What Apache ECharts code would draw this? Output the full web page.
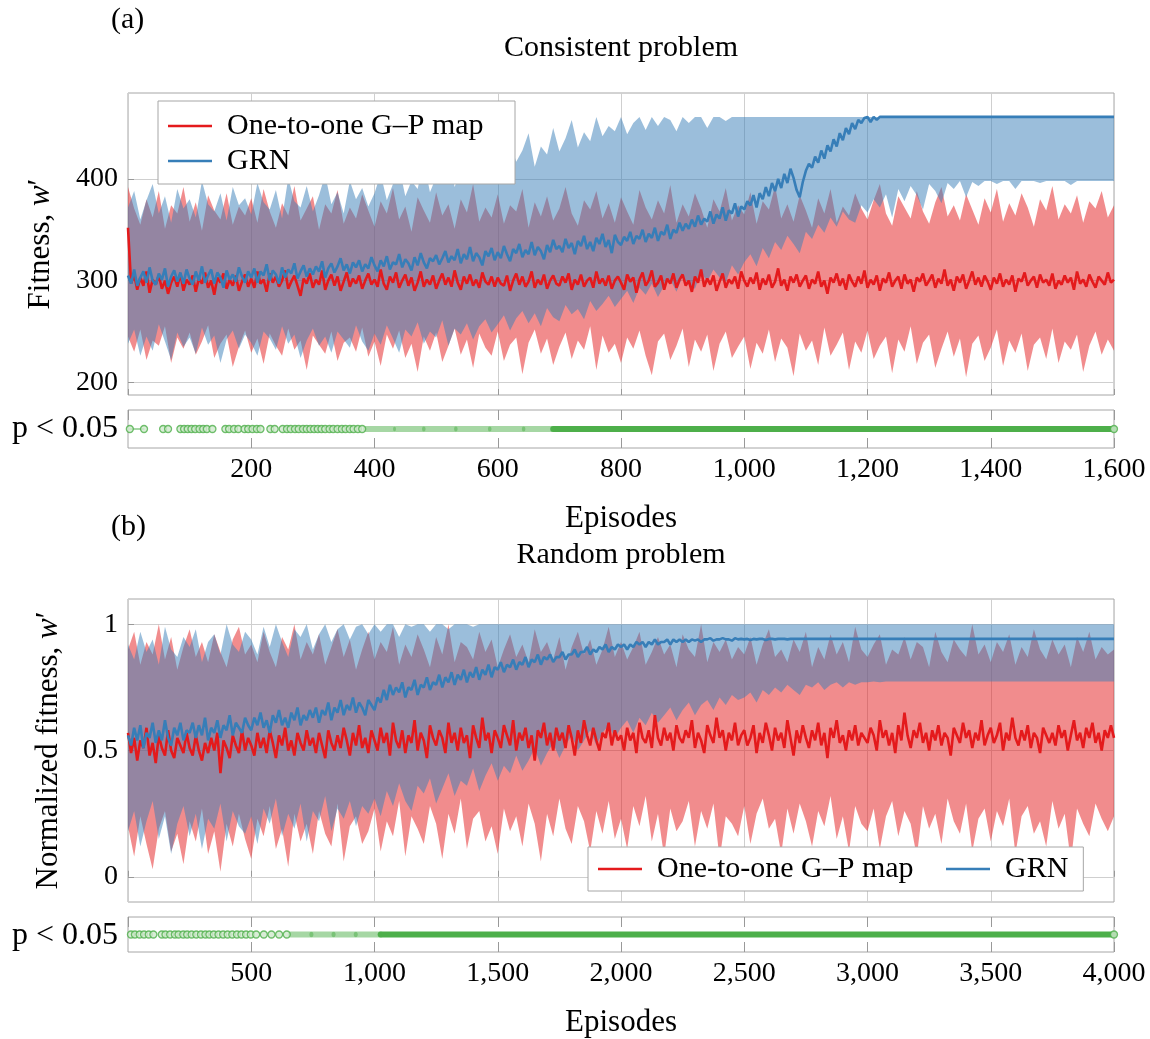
<!DOCTYPE html>
<html>
<head>
<meta charset="utf-8">
<script src="https://cdn.jsdelivr.net/npm/echarts@6/dist/echarts.min.js"></script>
<style>
html, body { margin: 0; padding: 0; background: #fff; }
#chart { width: 1150px; height: 1039px; }
</style>
</head>
<body>
<div id="chart"></div>
<script>
// (a) Consistent problem: means every 5 episodes, bands every 10 episodes (0..1600)
var redMeanA = [
352,297,306,291,303,295,309,288,301,296,305,292,300,287,298,304,294,307,290,301,
296,305,289,302,297,308,293,300,286,303,298,307,292,301,295,305,290,299,306,294,
302,293,309,297,301,289,307,298,304,294,300,310,292,299,305,295,285,302,297,307,
293,301,296,310,291,300,306,295,304,290,299,308,294,302,297,305,292,300,307,296,
301,294,311,297,291,304,298,308,293,300,306,295,303,290,298,309,294,301,296,305,
292,300,307,296,303,294,310,298,291,304,297,306,295,301,293,308,299,296,304,294,
303,297,295,305,290,300,307,296,304,294,299,309,293,301,296,306,292,300,305,297,
295,304,298,307,291,301,296,306,294,300,303,293,309,297,302,295,305,292,300,304,
298,291,306,299,303,288,301,308,295,300,310,294,298,305,291,302,297,307,293,301,
306,295,300,289,304,298,311,294,302,296,305,290,299,307,293,301,297,304,292,309,
300,294,303,297,308,291,302,296,306,293,299,312,295,301,290,304,298,306,294,300,
305,292,301,297,309,294,300,287,303,298,307,295,302,291,306,299,294,304,297,310,
293,301,296,305,290,302,298,308,294,300,304,292,306,297,301,289,303,299,307,295,
300,306,293,302,297,311,295,301,290,304,298,306,292,300,309,296,303,294,305,299,
291,303,297,307,294,301,296,305,289,302,299,308,295,300,304,293,306,298,301,295,
307,292,300,296,305,298,303,291,309,297,301,294,306,299,293,304,300,296,308,298,
301];
var blueMeanA = [
305,297,311,295,303,309,298,313,300,296,307,301,312,294,304,310,299,308,297,311,
302,296,309,300,314,298,305,311,297,308,303,293,310,301,306,299,313,304,298,309,
303,312,298,309,305,316,300,310,306,297,313,303,311,307,317,302,309,315,304,312,
306,314,309,319,303,312,317,308,314,322,310,316,307,318,313,320,309,316,312,323,
315,309,320,314,324,311,318,316,326,313,321,317,310,323,315,327,318,312,322,319,
325,316,322,329,318,324,320,331,317,326,321,333,319,327,323,315,329,324,332,320,
328,322,334,326,319,331,327,336,323,330,326,338,325,333,329,321,335,328,340,331,
334,328,341,332,337,326,339,334,344,331,338,329,342,336,346,333,340,327,345,338,
335,343,339,348,336,344,341,350,338,346,342,352,339,348,345,355,341,350,347,357,
349,356,351,360,353,364,355,361,358,368,356,365,361,372,359,369,366,376,363,373,
370,378,374,384,372,386,380,392,383,396,388,400,391,405,396,410,401,389,382,397,
408,415,411,422,416,428,420,433,427,439,432,445,438,450,444,455,449,458,455,460,
461,456,461,458,461,461,461,461,461,461,461,461,461,461,461,461,461,461,461,461,
461,461,461,461,461,461,461,461,461,461,461,461,461,461,461,461,461,461,461,461,
461,461,461,461,461,461,461,461,461,461,461,461,461,461,461,461,461,461,461,461,
461,461,461,461,461,461,461,461,461,461,461,461,461,461,461,461,461,461,461,461,
461];
var redHiA = [
392,371,355,380,362,388,351,374,366,392,358,377,349,384,369,360,386,355,373,364,
381,357,390,368,352,376,364,393,359,371,383,350,375,366,389,356,372,361,385,369,
353,378,366,391,360,373,348,382,369,357,387,364,375,351,380,367,395,358,372,362,
385,356,374,368,390,352,377,363,383,359,371,392,366,354,379,370,388,361,376,357,
382,368,355,389,372,360,379,366,394,357,375,363,386,371,352,380,368,391,359,374,
365,387,356,378,370,393,361,375,358,384,369,352,381,366,390,357,373,364,386,371,
360,379,395,366,354,383,372,361,388,368,356,377,392,363,374,359,385,370,355,381,
367,390,358,376,364,386,372,353,380,369,393,360,375,366,384,357,378,371,388,362,
374];
var redLoA = [
245,230,252,222,241,236,255,219,244,233,249,227,240,256,224,238,247,215,235,251,
229,243,218,248,236,226,253,232,241,212,246,237,228,250,221,239,244,230,254,225,
240,216,247,233,251,224,238,210,245,231,249,220,236,253,227,242,214,248,234,226,
250,221,237,244,208,239,252,228,243,217,235,249,223,241,232,255,212,246,229,238,
219,244,233,251,226,207,240,248,222,236,253,215,242,230,247,211,238,250,224,235,
245,213,239,228,252,220,243,234,206,248,231,241,217,254,226,237,249,212,240,229,
251,223,236,245,209,242,230,255,218,239,247,214,233,250,225,243,205,238,246,221,
234,252,216,241,229,248,211,237,244,223,253,219,240,232,247,210,236,250,227,242,
231];
var blueHiA = [
372,388,360,379,395,366,383,357,390,371,380,362,398,375,368,386,359,392,374,381,
365,396,377,370,389,361,401,378,372,393,368,384,404,375,387,366,398,380,391,373,
386,405,379,395,412,383,398,390,418,387,402,396,425,392,408,399,430,401,414,405,
421,408,436,417,428,445,412,432,424,450,427,440,458,431,446,437,461,442,452,447,
461,444,455,461,448,461,452,461,458,447,461,455,461,461,450,461,461,457,461,461,
461,461,461,461,461,461,461,461,461,461,461,461,461,461,461,461,461,461,461,461,
461,461,461,461,461,461,461,461,461,461,461,461,461,461,461,461,461,461,461,461,
461,461,461,461,461,461,461,461,461,461,461,461,461,461,461,461,461,461,461,461,
461];
var blueLoA = [
238,252,226,245,231,257,240,222,249,235,244,228,254,237,246,219,242,251,233,247,
239,226,250,243,232,255,238,247,224,241,253,236,245,229,250,242,234,256,240,231,
248,237,256,243,229,252,245,259,238,250,244,261,236,253,247,258,242,255,262,249,
257,266,251,263,270,258,268,255,273,264,260,276,267,272,262,280,270,277,285,274,
282,290,278,293,286,297,284,295,301,289,304,296,292,308,299,311,303,298,315,306,
318,326,314,332,322,338,330,344,336,327,348,341,355,347,362,353,368,360,357,374,
367,380,372,385,362,390,378,393,384,370,395,388,376,396,390,398,382,397,393,398,
398,395,398,398,390,398,398,398,396,398,398,398,398,394,398,398,398,398,398,398,
398];

// (b) Random problem: means every 12.5 episodes, bands every 25 episodes (0..4000)
var redMeanB = [
.57,.49,.55,.46,.54,.51,.59,.48,.53,.45,.56,.51,.48,.58,.50,.47,.55,.52,.49,.57,
.51,.48,.56,.50,.46,.53,.49,.55,.50,.57,.41,.54,.51,.47,.56,.52,.49,.58,.50,.55,
.52,.48,.57,.51,.55,.49,.58,.53,.47,.56,.52,.59,.50,.54,.48,.57,.53,.50,.58,.52,
.55,.49,.57,.52,.47,.58,.53,.50,.56,.51,.59,.54,.48,.57,.52,.60,.51,.55,.49,.58,
.54,.50,.59,.53,.57,.48,.61,.54,.51,.58,.49,.56,.53,.62,.50,.57,.54,.47,.60,.55,
.52,.58,.55,.49,.61,.53,.57,.50,.59,.53,.56,.47,.60,.55,.51,.63,.54,.57,.49,.58,
.55,.51,.60,.56,.52,.62,.50,.57,.54,.59,.51,.56,.46,.58,.55,.61,.52,.57,.50,.59,
.54,.57,.51,.60,.55,.48,.58,.53,.62,.56,.52,.59,.54,.50,.57,.55,.61,.52,.58,.54,
.56,.50,.59,.54,.57,.49,.61,.55,.53,.58,.51,.64,.55,.52,.59,.54,.57,.50,.60,.55,
.53,.58,.55,.62,.51,.57,.54,.49,.60,.56,.53,.63,.55,.58,.50,.57,.54,.61,.52,.56,
.58,.52,.55,.60,.49,.57,.53,.61,.56,.50,.59,.54,.57,.51,.62,.55,.48,.58,.53,.60,
.55,.51,.58,.54,.61,.52,.57,.47,.59,.55,.62,.53,.56,.50,.58,.54,.60,.52,.57,.55,
.53,.59,.56,.50,.62,.55,.58,.52,.57,.49,.60,.54,.65,.56,.51,.58,.55,.61,.53,.57,
.50,.58,.54,.60,.52,.57,.55,.48,.59,.56,.53,.61,.55,.58,.51,.57,.54,.62,.52,.56,
.59,.53,.56,.61,.50,.57,.54,.63,.55,.52,.58,.54,.60,.51,.57,.55,.49,.59,.56,.53,
.57,.52,.60,.55,.58,.50,.56,.62,.54,.57,.51,.59,.55,.61,.53,.57,.50,.58,.55,.60,
.55];
var blueMeanB = [
.56,.52,.59,.54,.60,.51,.57,.55,.61,.53,.58,.54,.62,.55,.52,.59,.56,.61,.54,.58,
.57,.61,.55,.60,.56,.63,.54,.59,.57,.62,.55,.60,.58,.64,.56,.61,.59,.57,.63,.60,
.58,.63,.60,.65,.59,.62,.57,.64,.61,.66,.60,.63,.59,.65,.62,.67,.60,.64,.62,.66,
.63,.67,.61,.66,.64,.69,.62,.67,.65,.70,.64,.68,.66,.71,.65,.69,.67,.64,.70,.68,
.66,.71,.69,.74,.70,.76,.72,.75,.73,.77,.71,.75,.74,.78,.72,.76,.75,.79,.74,.77,
.76,.80,.75,.79,.77,.81,.76,.80,.78,.82,.77,.81,.79,.83,.78,.82,.80,.84,.79,.83,
.82,.85,.81,.84,.83,.86,.82,.85,.84,.87,.83,.86,.85,.88,.84,.87,.86,.88,.85,.87,
.87,.89,.86,.88,.88,.90,.87,.89,.89,.91,.88,.90,.89,.91,.90,.92,.89,.91,.90,.92,
.91,.92,.90,.92,.91,.93,.92,.93,.91,.93,.92,.94,.92,.93,.93,.94,.92,.94,.93,.94,
.93,.94,.93,.94,.935,.94,.93,.94,.94,.945,.935,.94,.94,.945,.94,.94,.935,.945,.94,.942,
.94,.942,.938,.942,.94,.942,.942,.938,.942,.942,.94,.942,.942,.942,.94,.942,.942,.942,.942,.942,
.942,.942,.942,.942,.942,.942,.942,.942,.942,.942,.942,.942,.942,.942,.942,.942,.942,.942,.942,.942,
.942,.942,.942,.942,.942,.942,.942,.942,.942,.942,.942,.942,.942,.942,.942,.942,.942,.942,.942,.942,
.942,.942,.942,.942,.942,.942,.942,.942,.942,.942,.942,.942,.942,.942,.942,.942,.942,.942,.942,.942,
.942,.942,.942,.942,.942,.942,.942,.942,.942,.942,.942,.942,.942,.942,.942,.942,.942,.942,.942,.942,
.942,.942,.942,.942,.942,.942,.942,.942,.942,.942,.942,.942,.942,.942,.942,.942,.942,.942,.942,.942,
.942];
var redHiB = [
.90,.97,.84,.93,.88,1.0,.86,.95,.82,.91,.98,.87,.93,.85,.96,.89,.83,.94,.99,.88,
.92,.85,.97,.89,.83,.95,.90,1.0,.86,.93,.88,.96,.84,.91,.98,.87,.94,.82,.90,.97,
.86,.93,.89,.99,.84,.92,.87,.96,.90,.83,.95,.88,1.0,.85,.93,.91,.86,.97,.89,.94,
.83,.90,.96,.87,.92,.85,.98,.89,.93,.86,.95,.82,.91,.97,.88,.94,.84,.90,.99,.87,
.93,.86,.91,.97,.84,.89,.95,.88,.92,.83,.96,.90,.87,1.0,.85,.93,.89,.94,.86,.91,
.88,.95,.84,.92,.98,.87,.90,.85,.94,.89,.97,.83,.91,.86,.96,.88,.93,.85,.99,.90,
.87,.92,.96,.84,.90,.88,.95,.86,.93,.91,.83,.97,.89,.85,.94,.90,.87,1.0,.88,.92,
.85,.93,.89,.96,.84,.91,.87,.98,.90,.86,.94,.88,.92,.83,.95,.89,.97,.86,.91,.88,
.90];
var redLoB = [
.20,.08,.24,.13,.03,.19,.26,.10,.17,.05,.22,.14,.27,.09,.18,.02,.21,.12,.25,.15,
.07,.23,.16,.28,.11,.19,.04,.25,.14,.21,.09,.26,.17,.12,.29,.06,.20,.24,.13,.18,
.27,.10,.22,.16,.30,.08,.24,.19,.13,.28,.21,.07,.25,.17,.31,.11,.23,.26,.14,.20,
.09,.27,.18,.24,.12,.29,.21,.06,.25,.16,.31,.19,.13,.28,.22,.10,.26,.17,.30,.15,
.23,.11,.28,.20,.32,.14,.25,.08,.27,.18,.22,.30,.12,.26,.19,.29,.07,.24,.21,.16,
.28,.13,.25,.31,.19,.23,.09,.27,.17,.29,.22,.12,.26,.20,.32,.15,.24,.10,.28,.21,
.18,.27,.11,.24,.30,.16,.26,.21,.08,.28,.19,.25,.13,.31,.22,.17,.29,.10,.23,.27,
.14,.26,.20,.31,.09,.24,.28,.17,.22,.12,.30,.19,.25,.06,.27,.21,.16,.29,.23,.18,
.24];
var blueHiB = [
.92,.86,.97,.89,.94,.84,.99,.90,.87,.95,.91,.98,.85,.93,.96,.88,1.0,.92,.89,.97,
.94,.88,.99,.91,1.0,.93,.87,.98,.95,1.0,.90,.96,1.0,.93,.98,1.0,.94,.99,1.0,.96,
1.0,.97,1.0,1.0,.95,1.0,.99,1.0,1.0,.97,1.0,1.0,.98,1.0,1.0,1.0,.99,1.0,1.0,1.0,
1,1,1,1,1,1,1,1,1,1,1,1,1,1,1,1,1,1,1,1,
1,1,1,1,1,1,1,1,1,1,1,1,1,1,1,1,1,1,1,1,
1,1,1,1,1,1,1,1,1,1,1,1,1,1,1,1,1,1,1,1,
1,1,1,1,1,1,1,1,1,1,1,1,1,1,1,1,1,1,1,1,
1,1,1,1,1,1,1,1,1,1,1,1,1,1,1,1,1,1,1,1,
1];
var blueLoB = [
.18,.26,.12,.22,.30,.15,.24,.09,.21,.28,.16,.25,.11,.23,.19,.29,.14,.26,.20,.17,
.24,.13,.27,.21,.31,.16,.25,.19,.29,.14,.26,.22,.32,.18,.27,.23,.30,.20,.28,.25,
.31,.24,.34,.28,.37,.30,.26,.36,.33,.39,.29,.35,.41,.32,.38,.36,.43,.34,.40,.45,
.38,.44,.41,.48,.42,.46,.51,.44,.49,.53,.47,.52,.56,.50,.54,.58,.52,.57,.60,.55,
.59,.62,.57,.63,.60,.65,.61,.64,.67,.62,.66,.69,.64,.68,.70,.66,.71,.68,.72,.70,
.71,.73,.69,.74,.72,.75,.73,.76,.74,.72,.76,.75,.77,.74,.76,.77,.75,.77,.76,.77,
.77,.773,.77,.773,.773,.773,.773,.773,.773,.773,.773,.773,.773,.773,.773,.773,.773,.773,.773,.773,
.773,.773,.773,.773,.773,.773,.773,.773,.773,.773,.773,.773,.773,.773,.773,.773,.773,.773,.773,.773,
.773];

// episodes where p < 0.05
var sigPointsA = [3, 26, 57, 65, 85, 91, 97, 103, 109, 116, 122, 128, 137, 158, 164, 172, 179, 189, 195, 202, 209, 215,
  231, 238, 251, 258, 264, 271, 277, 284, 290, 296, 302, 308, 314, 320, 327, 333, 340, 347, 353, 360, 366, 373, 380, 1600];
var sigLinksA = [[3, 26]];
var sigFaintA = [[386, 430], [435, 478], [482, 530], [534, 585], [589, 640], [644, 690]];
var sigRunsA = [[690, 1600]];

var sigPointsB = [12, 28, 47, 65, 84, 103, 137, 152, 171, 190, 205, 224, 240, 258, 277, 296, 314, 330, 348, 367, 386,
  404, 423, 442, 460, 479, 498, 520, 551, 582, 613, 644, 4000];
var sigLinksB = [];
var sigFaintB = [[660, 740], [748, 830], [838, 920], [928, 1025]];
var sigRunsB = [[1025, 4000]];

var yTicksA = [200, 300, 400];
var yTicksB = [0, 0.5, 1];

var RED = '#e41a1c', BLUE = '#377eb8', GREEN = '#4daf4a';
var FONT = '"Liberation Serif", "Times New Roman", serif';
var FS = 28;   // tick labels
var FT = 30;   // other text
var nameRed = 'One-to-one G\u2013P map', nameBlue = 'GRN';

// x positions spread evenly over the episode range
function episodes(arr, max) {
    return arr.map(function (v, i) { return i * max / (arr.length - 1); });
}
function pairs(xs, ys) {
    return xs.map(function (x, i) { return [x, ys[i]]; });
}
function commas(v) {
    return String(v).replace(/\B(?=(\d{3})+(?!\d))/g, ',');
}

function band(xi, yi, max, lo, hi, fill) {
    var xs = episodes(lo, max);
    return {
        type: 'custom', xAxisIndex: xi, yAxisIndex: yi, silent: true, z: 1,
        data: xs.map(function (x, i) { return [x, lo[i], hi[i]]; }),
        encode: { x: 0, y: [1, 2] },
        renderItem: function (params, api) {
            if (params.dataIndex !== 0) return null;
            var pts = [];
            for (var i = 0; i < xs.length; i++) pts.push(api.coord([xs[i], hi[i]]));
            for (var j = xs.length - 1; j >= 0; j--) pts.push(api.coord([xs[j], lo[j]]));
            return { type: 'polygon', shape: { points: pts }, style: { fill: fill } };
        }
    };
}

function meanLine(xi, yi, name, max, ys, color) {
    return {
        type: 'line', name: name, xAxisIndex: xi, yAxisIndex: yi, z: 3,
        data: pairs(episodes(ys, max), ys), symbol: 'none', showSymbol: false,
        lineStyle: { color: color, width: 2.6 }, itemStyle: { color: color }
    };
}

function runs(xi, yi, list, width, opacity) {
    return {
        type: 'custom', xAxisIndex: xi, yAxisIndex: yi, silent: true, z: 2,
        data: list,
        encode: { x: [0, 1] },
        renderItem: function (params, api) {
            var p0 = api.coord([api.value(0), 0.5]);
            var p1 = api.coord([api.value(1), 0.5]);
            return {
                type: 'line',
                shape: { x1: p0[0], y1: p0[1], x2: p1[0], y2: p1[1] },
                style: { stroke: GREEN, lineWidth: width, opacity: opacity, lineCap: 'round' }
            };
        }
    };
}

function dots(xi, yi, list) {
    return {
        type: 'scatter', xAxisIndex: xi, yAxisIndex: yi, silent: true, z: 4,
        data: list.map(function (e) { return [e, 0.5]; }),
        symbol: 'circle', symbolSize: 7,
        itemStyle: { color: '#cfe8cd', borderColor: GREEN, borderWidth: 1.3 }
    };
}

function mainX(grid, max, step) {
    return {
        type: 'value', gridIndex: grid, min: 0, max: max, interval: step,
        axisLine: { show: false },
        axisTick: { show: true, inside: true, length: 6, lineStyle: { color: '#999' } },
        axisLabel: { show: false },
        splitLine: { show: true, lineStyle: { color: '#cfcfcf', width: 1 } }
    };
}
function stripX(grid, max, step, pos, labels) {
    return {
        type: 'value', gridIndex: grid, min: 0, max: max, interval: step, position: pos,
        axisLine: { show: false },
        axisTick: { show: true, inside: true, length: 10, lineStyle: { color: '#999' } },
        axisLabel: labels ? {
            show: true, showMinLabel: false, margin: 8, color: '#000',
            fontFamily: FONT, fontSize: FS, formatter: commas
        } : { show: false },
        splitLine: { show: false },
        name: labels ? 'Episodes' : '', nameLocation: 'middle', nameGap: 55,
        nameTextStyle: { fontFamily: FONT, fontSize: 31, color: '#000' }
    };
}
function mainY(grid, min, max, ticks, nameText, gap) {
    return {
        type: 'value', gridIndex: grid, min: min, max: max,
        axisLine: { show: false },
        axisTick: { show: true, inside: true, length: 6, customValues: ticks, lineStyle: { color: '#999' } },
        axisLabel: { show: true, customValues: ticks, margin: 10, color: '#000', fontFamily: FONT, fontSize: FS },
        splitLine: { show: true, lineStyle: { color: '#cfcfcf', width: 1 } },
        name: nameText, nameLocation: 'middle', nameGap: gap, nameRotate: 90,
        nameTextStyle: {
            color: '#000',
            rich: {
                t: { fontFamily: FONT, fontSize: 31, color: '#000' },
                w: { fontFamily: FONT, fontSize: 31, fontStyle: 'italic', color: '#000' }
            }
        }
    };
}
function stripY(grid) {
    return {
        type: 'value', gridIndex: grid, min: 0, max: 1,
        axisLine: { show: false }, axisTick: { show: false },
        axisLabel: { show: false }, splitLine: { show: false }
    };
}

function legendBox(orient, left, top, padding, gap) {
    return {
        data: [nameRed, nameBlue], orient: orient, left: left, top: top,
        padding: padding, itemGap: gap, itemWidth: 44, itemHeight: 2.5, icon: 'rect',
        backgroundColor: '#fff', borderColor: '#a6a6a6', borderWidth: 1, borderRadius: 0,
        formatter: function (name) { return name === nameRed ? '{r|' + name + '}' : '{g|' + name + '}'; },
        textStyle: {
            fontFamily: FONT, fontSize: FT, color: '#000',
            rich: {
                r: { fontFamily: FONT, fontSize: FT, color: '#000', width: 274, lineHeight: 32, padding: [0, 0, 0, 10] },
                g: { fontFamily: FONT, fontSize: FT, color: '#000', lineHeight: 32, padding: [0, 0, 0, 10] }
            }
        }
    };
}

var frame = { show: true, borderColor: '#a6a6a6', borderWidth: 1, backgroundColor: 'transparent' };
function label(x, y, text, align, size) {
    return {
        type: 'text', x: x, y: y, z: 10, silent: true,
        style: { text: text, font: size + 'px ' + FONT, fill: '#000', textAlign: align, textVerticalAlign: 'middle' }
    };
}

var chart = echarts.init(document.getElementById('chart'), null, { renderer: 'canvas' });
chart.setOption({
    animation: false,
    backgroundColor: '#fff',
    textStyle: { fontFamily: FONT },
    grid: [
        Object.assign({ left: 128, top: 93, width: 986, height: 302 }, frame),
        Object.assign({ left: 128, top: 410, width: 986, height: 38 }, frame),
        Object.assign({ left: 128, top: 599, width: 986, height: 303 }, frame),
        Object.assign({ left: 128, top: 917, width: 986, height: 38 }, frame)
    ],
    xAxis: [
        mainX(0, 1600, 200),
        stripX(1, 1600, 200, 'bottom', true),
        stripX(1, 1600, 200, 'top', false),
        mainX(2, 4000, 500),
        stripX(3, 4000, 500, 'bottom', true),
        stripX(3, 4000, 500, 'top', false)
    ],
    yAxis: [
        mainY(0, 187.5, 484.5, yTicksA, '{t|Fitness, }{w|w}{t|\u2032}', 72),
        stripY(1),
        mainY(2, -0.1, 1.1, yTicksB, '{t|Normalized fitness, }{w|w}{t|\u2032}', 64),
        stripY(3)
    ],
    legend: [
        legendBox('vertical', 158, 101, [10, 14, 8, 10], 5),
        legendBox('horizontal', 588, 847, [7, 15, 7, 10], 15)
    ],
    graphic: [
        label(111, 20, '(a)', 'left', FT),
        label(621, 48, 'Consistent problem', 'center', FT),
        label(118, 429, 'p < 0.05', 'right', 32),
        label(111, 527, '(b)', 'left', FT),
        label(621, 555, 'Random problem', 'center', FT),
        label(118, 936, 'p < 0.05', 'right', 32)
    ],
    series: [
        band(0, 0, 1600, redLoA, redHiA, 'rgba(228,26,28,0.5)'),
        band(0, 0, 1600, blueLoA, blueHiA, 'rgba(55,126,184,0.5)'),
        meanLine(0, 0, nameRed, 1600, redMeanA, RED),
        meanLine(0, 0, nameBlue, 1600, blueMeanA, BLUE),
        runs(1, 1, sigLinksA, 1.2, 1),
        runs(1, 1, sigFaintA, 6, 0.5),
        runs(1, 1, sigRunsA, 6, 1),
        dots(1, 1, sigPointsA),

        band(3, 2, 4000, redLoB, redHiB, 'rgba(228,26,28,0.5)'),
        band(3, 2, 4000, blueLoB, blueHiB, 'rgba(55,126,184,0.5)'),
        meanLine(3, 2, nameRed, 4000, redMeanB, RED),
        meanLine(3, 2, nameBlue, 4000, blueMeanB, BLUE),
        runs(4, 3, sigLinksB, 1.2, 1),
        runs(4, 3, sigFaintB, 6, 0.5),
        runs(4, 3, sigRunsB, 6, 1),
        dots(4, 3, sigPointsB)
    ]
});
</script>
</body>
</html>
